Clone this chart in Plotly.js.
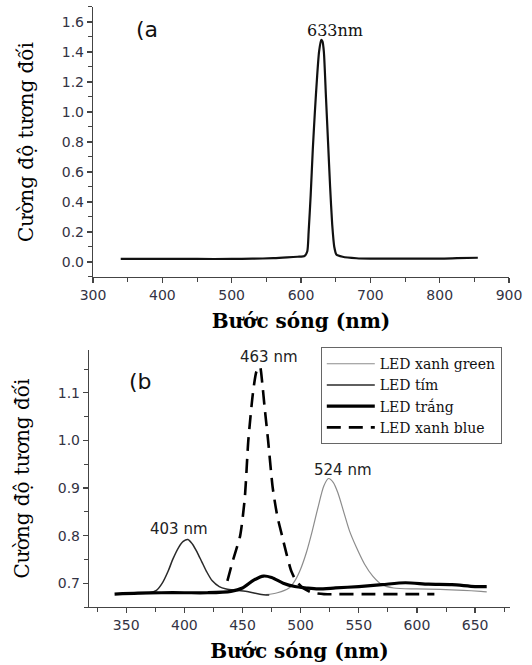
<!DOCTYPE html>
<html>
<head>
<meta charset="utf-8">
<script src="https://cdn.plot.ly/plotly-3.0.1.min.js"></script>
<style>html,body{margin:0;padding:0;background:#fff;}#chart{width:532px;height:665px;}</style>
</head>
<body>
<div id="chart"></div>
<script>
// Panel (a): red laser spectrum
const wavelengthA = [340, 400, 450, 500, 530, 560, 580, 595, 605, 609, 611, 614, 617, 620, 623, 626, 629, 631, 633, 636, 639, 642, 645, 648, 651, 660, 680, 700, 750, 800, 825, 855];
const intensityA  = [0.02, 0.02, 0.02, 0.02, 0.022, 0.025, 0.03, 0.035, 0.04, 0.07, 0.2, 0.45, 0.75, 1.0, 1.22, 1.4, 1.48, 1.47, 1.4, 1.1, 0.8, 0.5, 0.25, 0.1, 0.05, 0.035, 0.025, 0.022, 0.022, 0.022, 0.025, 0.028];

// Panel (b): LED spectra
const wlGreen  = [470, 480, 490, 495, 500, 505, 510, 515, 520, 524, 528, 532, 537, 542, 548, 555, 562, 570, 580, 600, 620, 640, 655, 660];
const intGreen = [0.676, 0.68, 0.69, 0.705, 0.73, 0.765, 0.81, 0.86, 0.905, 0.92, 0.912, 0.89, 0.85, 0.81, 0.775, 0.74, 0.715, 0.697, 0.69, 0.688, 0.687, 0.685, 0.683, 0.682];

const wlViolet  = [345, 370, 376, 381, 386, 390, 395, 399, 403, 407, 411, 415, 419, 424, 430, 436, 445, 455, 465, 473];
const intViolet = [0.678, 0.68, 0.685, 0.7, 0.725, 0.75, 0.775, 0.788, 0.792, 0.782, 0.765, 0.745, 0.725, 0.705, 0.693, 0.688, 0.685, 0.682, 0.677, 0.675];

const wlWhite  = [340, 360, 380, 400, 420, 440, 450, 460, 468, 475, 485, 495, 505, 515, 530, 550, 570, 590, 610, 630, 650, 660];
const intWhite = [0.677, 0.679, 0.68, 0.68, 0.68, 0.683, 0.69, 0.707, 0.715, 0.712, 0.70, 0.693, 0.69, 0.688, 0.69, 0.693, 0.697, 0.701, 0.698, 0.697, 0.693, 0.693];

const wlBlue  = [437, 442, 448, 452, 455, 459, 462, 465, 467, 469, 472, 476, 480, 484, 488, 492, 496, 502, 510, 520, 530, 560, 590, 615];
const intBlue = [0.705, 0.75, 0.8, 0.88, 1.0, 1.1, 1.145, 1.155, 1.12, 1.07, 1.0, 0.9, 0.84, 0.8, 0.76, 0.725, 0.705, 0.69, 0.68, 0.677, 0.677, 0.677, 0.677, 0.677];

const legendNames = ["LED xanh green", "LED tím", "LED trắng", "LED xanh blue"];
const yTitle = "Cường độ tương đối";
const xTitle = "Bước sóng (nm)";

const tickFont = {family: "DejaVu Sans", size: 14, color: "#333344"};
const titleFontX = {family: "DejaVu Serif", size: 20, color: "#000", weight: "bold"};
const titleFontY = {family: "DejaVu Serif", size: 20, color: "#000"};

const traces = [
  {x: wavelengthA, y: intensityA, xaxis: "x", yaxis: "y", mode: "lines", showlegend: false,
   line: {color: "#111", width: 2.2, shape: "spline", smoothing: 0.6}},
  {x: wlGreen, y: intGreen, xaxis: "x2", yaxis: "y2", mode: "lines", name: legendNames[0],
   line: {color: "#8c8c8c", width: 1.2, shape: "spline", smoothing: 0.8}},
  {x: wlViolet, y: intViolet, xaxis: "x2", yaxis: "y2", mode: "lines", name: legendNames[1],
   line: {color: "#2a2a2a", width: 1.5, shape: "spline", smoothing: 0.8}},
  {x: wlWhite, y: intWhite, xaxis: "x2", yaxis: "y2", mode: "lines", name: legendNames[2],
   line: {color: "#000", width: 3.2, shape: "spline", smoothing: 0.8}},
  {x: wlBlue, y: intBlue, xaxis: "x2", yaxis: "y2", mode: "lines", name: legendNames[3],
   line: {color: "#000", width: 2.6, dash: "14px,8px", shape: "spline", smoothing: 0.6}}
];

function axisCommon(extra) {
  return Object.assign({
    showline: true, linecolor: "#444", linewidth: 1.2, mirror: false,
    ticks: "outside", ticklen: 5, tickwidth: 1.2, tickcolor: "#444",
    showgrid: false, zeroline: false, tickfont: tickFont, fixedrange: true
  }, extra);
}

const layout = {
  width: 532, height: 665,
  margin: {l: 0, r: 0, t: 0, b: 0},
  paper_bgcolor: "#fff", plot_bgcolor: "#fff",
  xaxis: axisCommon({domain: [0.1748, 0.9568], anchor: "y", range: [300, 900], dtick: 100, tick0: 300,
    minor: {dtick: 50, ticks: "outside", ticklen: 4, tickwidth: 1, tickcolor: "#444", showgrid: false},
    title: {text: xTitle, font: titleFontX, standoff: 12}}),
  yaxis: axisCommon({domain: [0.5835, 0.9895], anchor: "x", range: [-0.1, 1.7], dtick: 0.2, tick0: 0, tickformat: ".1f",
    minor: {dtick: 0.1, ticks: "outside", ticklen: 4, tickwidth: 1, tickcolor: "#444", showgrid: false},
    title: {text: yTitle, font: titleFontY, standoff: 22}}),
  xaxis2: axisCommon({domain: [0.1673, 0.9586], anchor: "y2", range: [318, 680], dtick: 50, tick0: 350,
    minor: {dtick: 25, ticks: "outside", ticklen: 4, tickwidth: 1, tickcolor: "#444", showgrid: false},
    title: {text: xTitle, font: titleFontX, standoff: 12}}),
  yaxis2: axisCommon({domain: [0.0872, 0.4737], anchor: "x2", range: [0.65, 1.19], dtick: 0.1, tick0: 0.7, tickformat: ".1f",
    minor: {dtick: 0.05, ticks: "outside", ticklen: 4, tickwidth: 1, tickcolor: "#444", showgrid: false},
    title: {text: yTitle, font: titleFontY, standoff: 22}}),
  legend: {x: 0.603, y: 0.478, xanchor: "left", yanchor: "top", bgcolor: "#fff",
    bordercolor: "#666", borderwidth: 1, font: {family: "DejaVu Serif", size: 14, color: "#111"},
    tracegroupgap: 0, itemwidth: 48},
  annotations: [
    {xref: "x", yref: "y", x: 378, y: 1.547, text: "(a", showarrow: false, font: {family: "DejaVu Sans", size: 22, color: "#111"}},
    {xref: "x", yref: "y", x: 649, y: 1.54, text: "633nm", showarrow: false, font: {family: "DejaVu Serif", size: 16, color: "#111"}},
    {xref: "x2", yref: "y2", x: 362, y: 1.124, text: "(b", showarrow: false, font: {family: "DejaVu Sans", size: 22, color: "#111"}},
    {xref: "x2", yref: "y2", x: 473, y: 1.176, text: "463 nm", showarrow: false, font: {family: "DejaVu Sans", size: 15, color: "#222"}},
    {xref: "x2", yref: "y2", x: 536, y: 0.9385, text: "524 nm", showarrow: false, font: {family: "DejaVu Sans", size: 15, color: "#222"}},
    {xref: "x2", yref: "y2", x: 395, y: 0.8137, text: "403 nm", showarrow: false, font: {family: "DejaVu Sans", size: 15, color: "#222"}}
  ]
};

Plotly.newPlot("chart", traces, layout, {displayModeBar: false, staticPlot: true});
</script>
</body>
</html>
